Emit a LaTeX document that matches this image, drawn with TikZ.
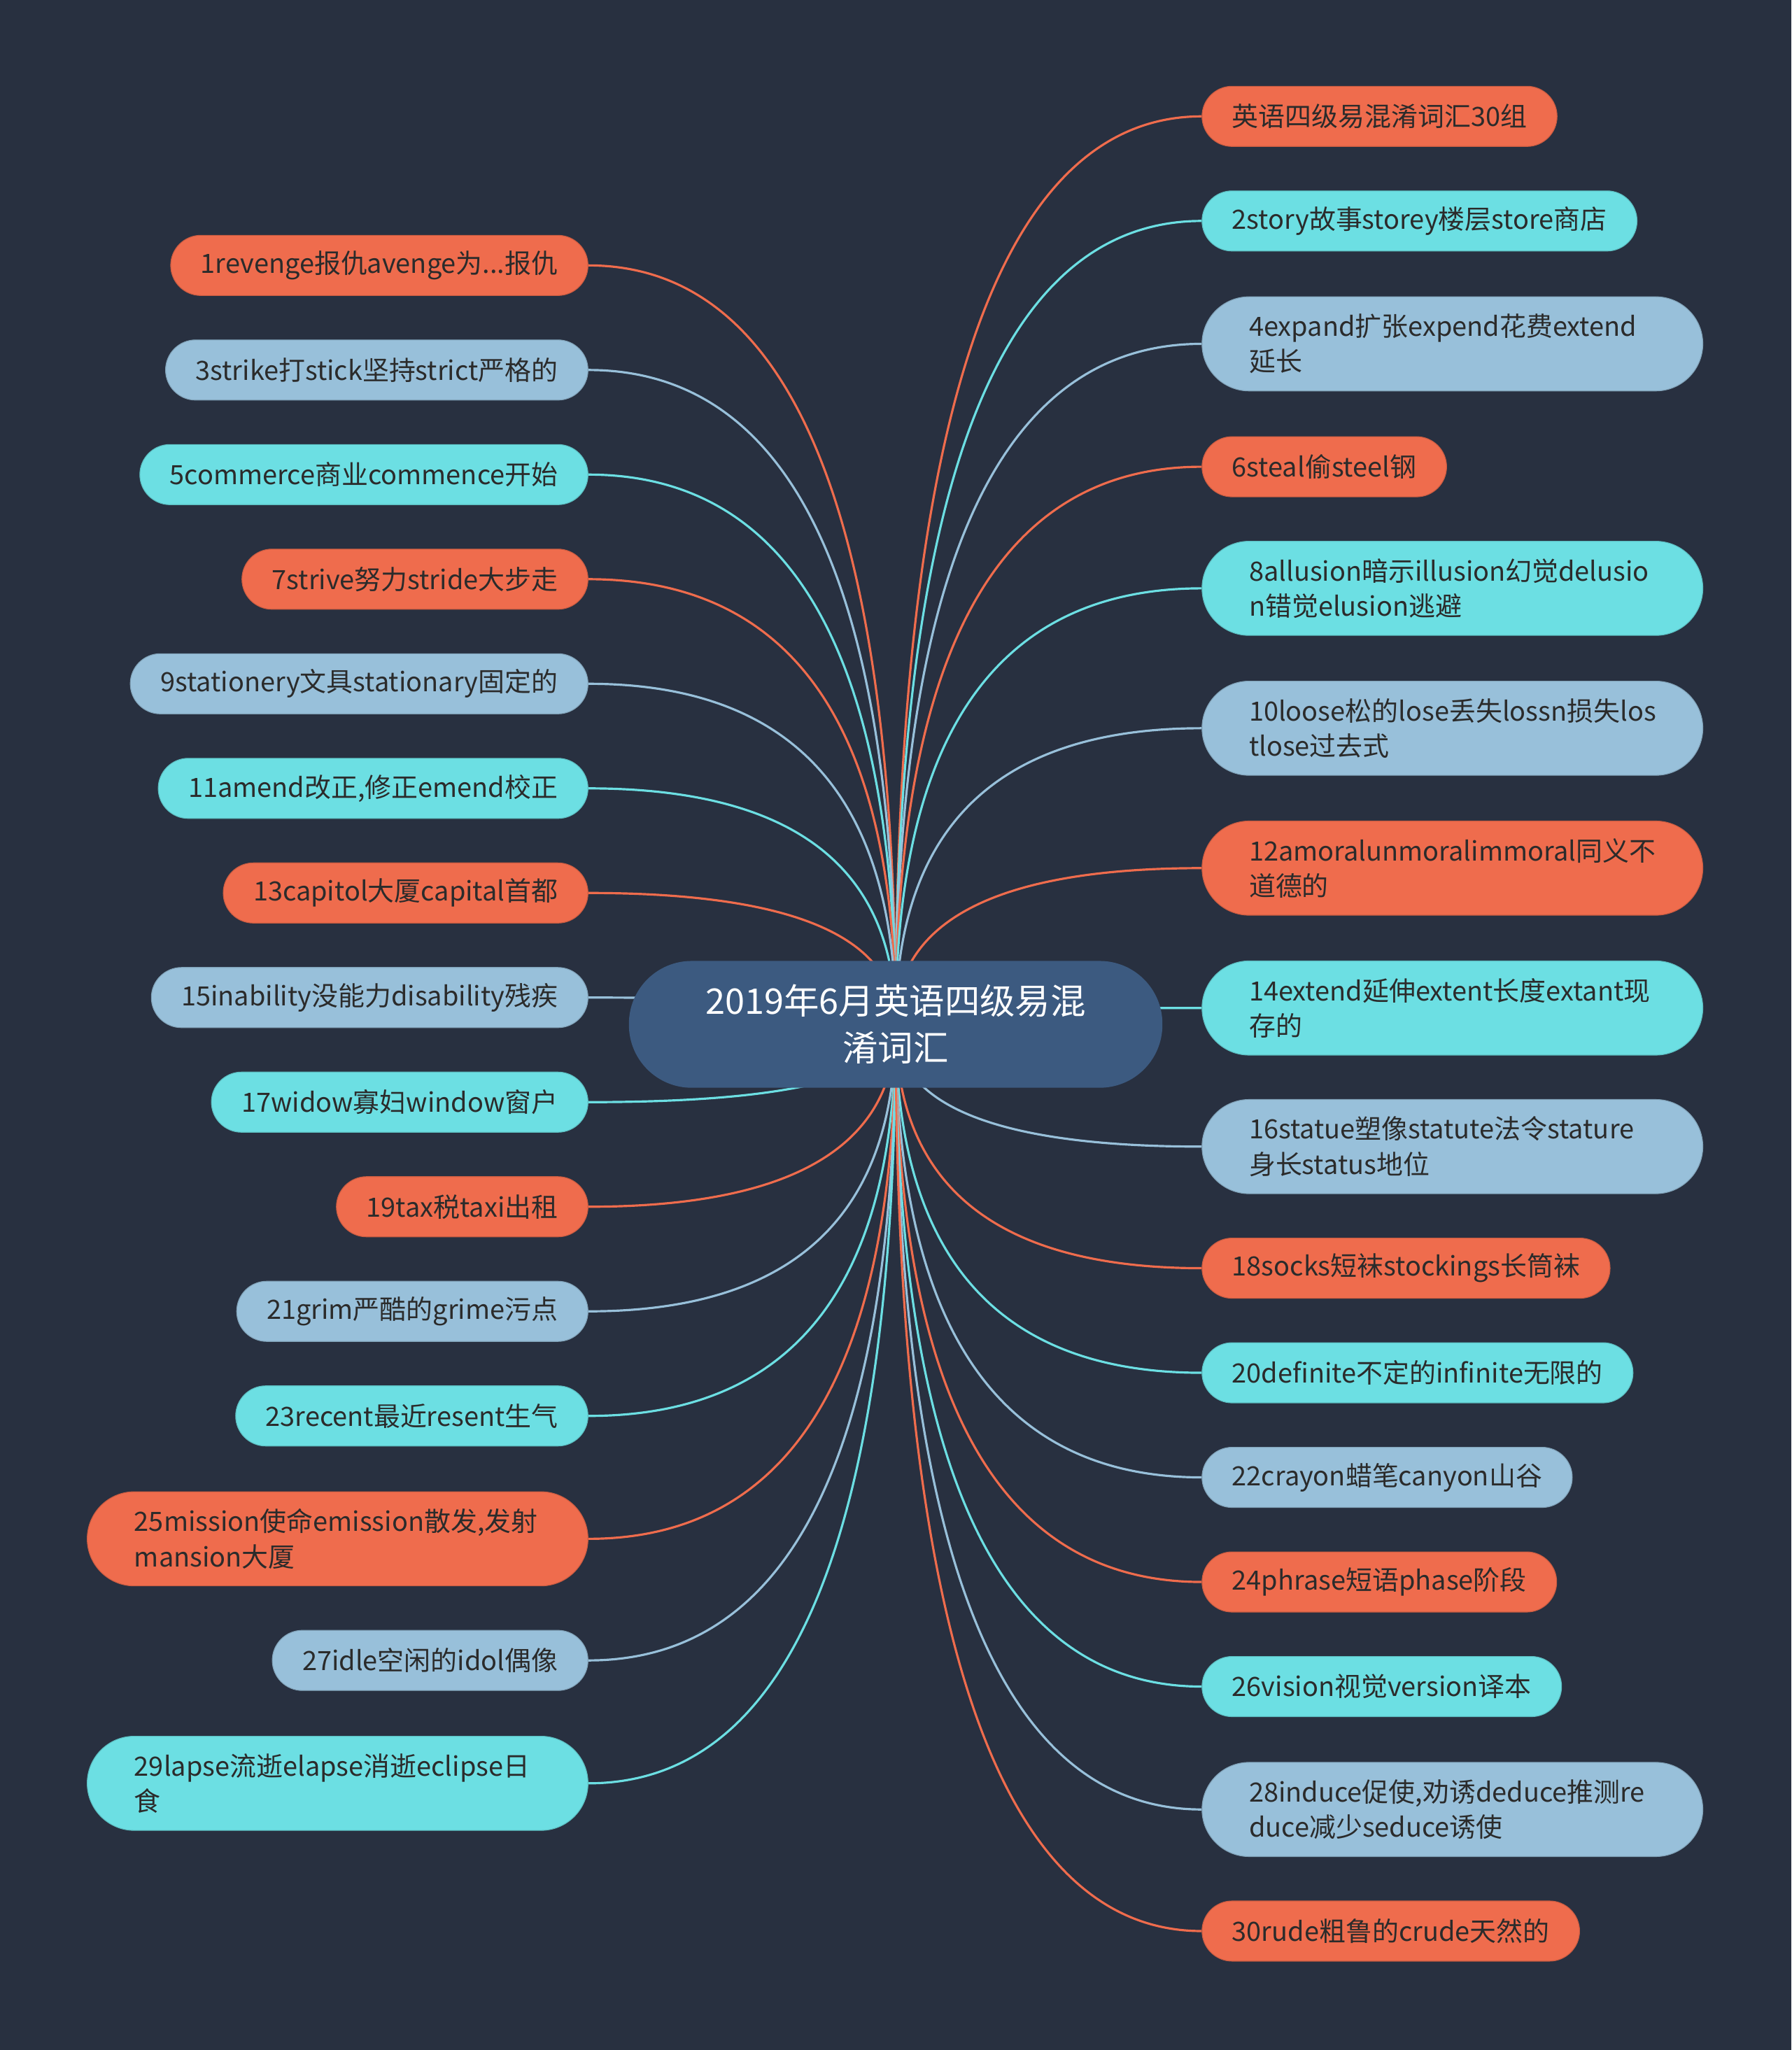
\documentclass[tikz,border=0pt]{standalone}
\usepackage{fontspec}
\setmainfont{Noto Sans CJK SC}
\usetikzlibrary{calc}
\definecolor{bgC}{HTML}{283040}
\definecolor{rootC}{HTML}{3C5A80}
\definecolor{oraC}{HTML}{EF6C4D}
\definecolor{cyaC}{HTML}{6CDFE3}
\definecolor{lblC}{HTML}{98C0DA}
\definecolor{txtC}{HTML}{2B2B2B}
\pgfdeclarelayer{back}
\pgfdeclarelayer{wires}
\pgfsetlayers{back,wires,main}

\begin{document}
\begin{tikzpicture}[x=1pt, y=-1pt,
    sub/.style={rounded corners=23pt, minimum height=46pt, inner xsep=23pt,
                inner ysep=2pt, text=txtC, align=left,
                font=\fontsize{20.3}{27}\selectfont},
    subtwo/.style={sub, rounded corners=36pt, minimum height=72pt,
                   inner xsep=36pt, text width=311pt},
    ora/.style={fill=oraC, draw=oraC!85!black, line width=0.6pt},
    cya/.style={fill=cyaC, draw=cyaC!85!black, line width=0.6pt},
    lbl/.style={fill=lblC, draw=lblC!85!black, line width=0.6pt},
    link/.style={line width=1.7pt,
                 to path={.. controls ($(\tikztostart)!2/3!(\tikztostart -| \tikztotarget)$)
                          and ($(\tikztotarget)!2/3!(\tikztostart -| \tikztotarget)$) .. (\tikztotarget)}},
  ]
    \begin{pgfonlayer}{back}
      \fill[bgC] (0,0) rectangle (1370,1568);
    \end{pgfonlayer}
    \useasboundingbox (0,0) rectangle (1370,1568);

    % tema central
    \node[fill=rootC, rounded corners=48pt, minimum width=408pt, minimum height=97pt,
          text=white, align=center, font=\fontsize{27}{36}\selectfont]
          (root) at (685,783.5) {2019年6月英语四级易混\\淆词汇};

    % rama izquierda
    \node[sub, ora, anchor=east] (l1)  at (450,203)  {1revenge报仇avenge为...报仇};
    \node[sub, lbl, anchor=east] (l3)  at (450,283)  {3strike打stick坚持strict严格的};
    \node[sub, cya, anchor=east] (l5)  at (450,363)  {5commerce商业commence开始};
    \node[sub, ora, anchor=east] (l7)  at (450,443)  {7strive努力stride大步走};
    \node[sub, lbl, anchor=east] (l9)  at (450,523)  {9stationery文具stationary固定的};
    \node[sub, cya, anchor=east] (l11) at (450,603)  {11amend改正,修正emend校正};
    \node[sub, ora, anchor=east] (l13) at (450,683)  {13capitol大厦capital首都};
    \node[sub, lbl, anchor=east] (l15) at (450,763)  {15inability没能力disability残疾};
    \node[sub, cya, anchor=east] (l17) at (450,843)  {17widow寡妇window窗户};
    \node[sub, ora, anchor=east] (l19) at (450,923)  {19tax税taxi出租};
    \node[sub, lbl, anchor=east] (l21) at (450,1003) {21grim严酷的grime污点};
    \node[sub, cya, anchor=east] (l23) at (450,1083) {23recent最近resent生气};
    \node[subtwo, ora, anchor=east] (l25) at (450,1177) {25mission使命emission散发,发射\\mansion大厦};
    \node[sub, lbl, anchor=east] (l27) at (450,1270) {27idle空闲的idol偶像};
    \node[subtwo, cya, anchor=east] (l29) at (450,1364) {29lapse流逝elapse消逝eclipse日\\食};

    % rama derecha
    \node[sub, ora, anchor=west] (r0)  at (919,89)   {英语四级易混淆词汇30组};
    \node[sub, cya, anchor=west] (r2)  at (919,169)  {2story故事storey楼层store商店};
    \node[subtwo, lbl, anchor=west] (r4)  at (919,263) {4expand扩张expend花费extend\\延长};
    \node[sub, ora, anchor=west] (r6)  at (919,357)  {6steal偷steel钢};
    \node[subtwo, cya, anchor=west] (r8)  at (919,450) {8allusion暗示illusion幻觉delusio\\n错觉elusion逃避};
    \node[subtwo, lbl, anchor=west] (r10) at (919,557) {10loose松的lose丢失lossn损失los\\tlose过去式};
    \node[subtwo, ora, anchor=west] (r12) at (919,664) {12amoralunmoralimmoral同义不\\道德的};
    \node[subtwo, cya, anchor=west] (r14) at (919,771) {14extend延伸extent长度extant现\\存的};
    \node[subtwo, lbl, anchor=west] (r16) at (919,877) {16statue塑像statute法令stature\\身长status地位};
    \node[sub, ora, anchor=west] (r18) at (919,970)  {18socks短袜stockings长筒袜};
    \node[sub, cya, anchor=west] (r20) at (919,1050) {20definite不定的infinite无限的};
    \node[sub, lbl, anchor=west] (r22) at (919,1130) {22crayon蜡笔canyon山谷};
    \node[sub, ora, anchor=west] (r24) at (919,1210) {24phrase短语phase阶段};
    \node[sub, cya, anchor=west] (r26) at (919,1290) {26vision视觉version译本};
    \node[subtwo, lbl, anchor=west] (r28) at (919,1384) {28induce促使,劝诱deduce推测re\\duce减少seduce诱使};
    \node[sub, ora, anchor=west] (r30) at (919,1477) {30rude粗鲁的crude天然的};

    % conectores
    \begin{pgfonlayer}{wires}
      \draw[link, oraC] (l1.east)  to (root.center);
      \draw[link, lblC] (l3.east)  to (root.center);
      \draw[link, cyaC] (l5.east)  to (root.center);
      \draw[link, oraC] (l7.east)  to (root.center);
      \draw[link, lblC] (l9.east)  to (root.center);
      \draw[link, cyaC] (l11.east) to (root.center);
      \draw[link, oraC] (l13.east) to (root.center);
      \draw[link, lblC] (l15.east) to (root.center);
      \draw[link, cyaC] (l17.east) to (root.center);
      \draw[link, oraC] (l19.east) to (root.center);
      \draw[link, lblC] (l21.east) to (root.center);
      \draw[link, cyaC] (l23.east) to (root.center);
      \draw[link, oraC] (l25.east) to (root.center);
      \draw[link, lblC] (l27.east) to (root.center);
      \draw[link, cyaC] (l29.east) to (root.center);
      \draw[link, oraC] (r0.west)  to (root.center);
      \draw[link, cyaC] (r2.west)  to (root.center);
      \draw[link, lblC] (r4.west)  to (root.center);
      \draw[link, oraC] (r6.west)  to (root.center);
      \draw[link, cyaC] (r8.west)  to (root.center);
      \draw[link, lblC] (r10.west) to (root.center);
      \draw[link, oraC] (r12.west) to (root.center);
      \draw[link, cyaC] (r14.west) to (root.center);
      \draw[link, lblC] (r16.west) to (root.center);
      \draw[link, oraC] (r18.west) to (root.center);
      \draw[link, cyaC] (r20.west) to (root.center);
      \draw[link, lblC] (r22.west) to (root.center);
      \draw[link, oraC] (r24.west) to (root.center);
      \draw[link, cyaC] (r26.west) to (root.center);
      \draw[link, lblC] (r28.west) to (root.center);
      \draw[link, oraC] (r30.west) to (root.center);
    \end{pgfonlayer}
  \end{tikzpicture}
\end{document}
